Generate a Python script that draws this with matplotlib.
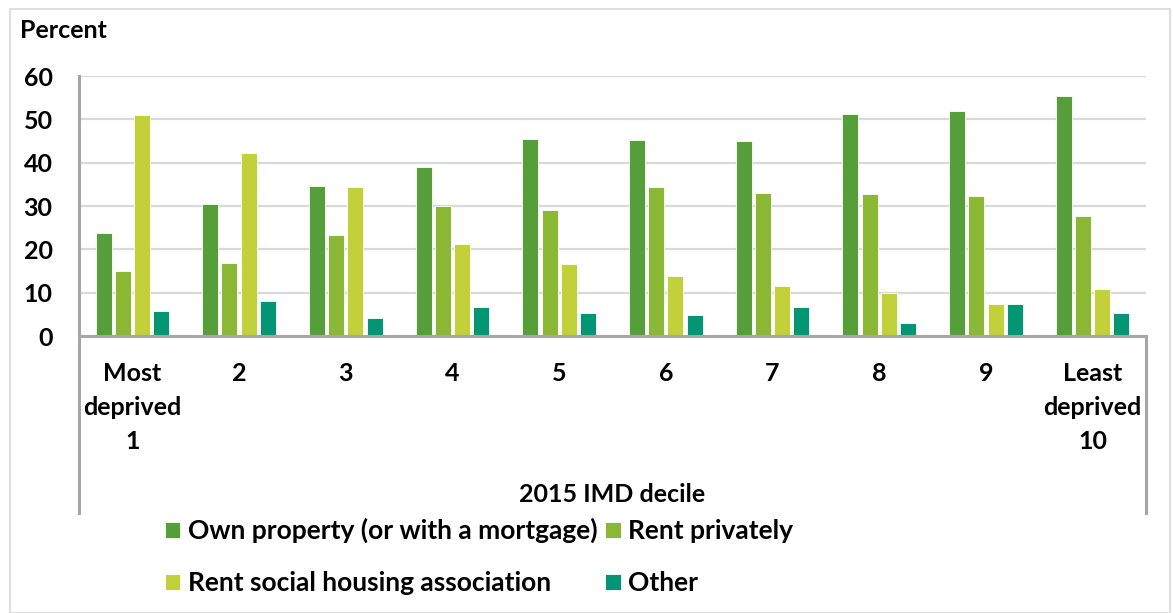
import matplotlib
matplotlib.use("Agg")
import matplotlib.pyplot as plt
from matplotlib.patches import Rectangle
from matplotlib.lines import Line2D
import numpy as np

plt.rcParams['font.family'] = ['Lato', 'DejaVu Sans']
plt.rcParams['font.weight'] = 'bold'

categories = ["Most\ndeprived\n1", "2", "3", "4", "5", "6", "7", "8", "9", "Least\ndeprived\n10"]
own = [23.7, 30.4, 34.6, 39.1, 45.4, 45.2, 45.1, 51.2, 52.0, 55.5]
rent_private = [15.1, 16.8, 23.2, 29.9, 29.0, 34.4, 32.9, 32.8, 32.3, 27.7]
rent_social = [50.9, 42.2, 34.4, 21.2, 16.6, 13.8, 11.5, 9.9, 7.5, 10.9]
other = [5.8, 8.1, 4.2, 6.8, 5.3, 4.9, 6.7, 2.9, 7.5, 5.4]

series_names = ["Own property (or with a mortgage)", "Rent privately",
                "Rent social housing association", "Other"]
series_values = [own, rent_private, rent_social, other]
colors = ["#559E3A", "#8AB734", "#C2D03A", "#049674"]

FS = 18
W, H = 1173, 613
fig = plt.figure(figsize=(W / 100, H / 100), dpi=100)

# outer chart border
fig.patches.append(Rectangle((10 / W, 0), 1160 / W, 604 / H, transform=fig.transFigure,
                             fill=False, edgecolor="#D9D9D9", linewidth=1.2))

ax_left, ax_right, ax_top, ax_bot = 79, 1146, 76, 336
ax = fig.add_axes([ax_left / W, (H - ax_bot) / H, (ax_right - ax_left) / W, (ax_bot - ax_top) / H])

x = np.arange(len(categories))
pitch = 0.18
bw = 0.15
handles = []
for i, (name, vals, c) in enumerate(zip(series_names, series_values, colors)):
    b = ax.bar(x + (i - 1.5) * pitch, vals, width=bw, color=c, edgecolor="white",
               linewidth=0.6, label=name, zorder=3)
    handles.append(b)

ax.set_xlim(-0.5, len(categories) - 0.5)
ax.set_ylim(0, 60)
ax.set_yticks(range(0, 61, 10))
for yv in range(10, 61, 10):
    ax.axhline(yv, color="#D9D9D9", linewidth=1.6, zorder=1)

for s in ["top", "right", "left"]:
    ax.spines[s].set_visible(False)
ax.spines["bottom"].set_color("#A6A6A6")
ax.spines["bottom"].set_linewidth(2.2)
ax.spines["bottom"].set_zorder(4)

ext = (ax_bot - 513) / (ax_bot - ax_top)
ax.add_line(Line2D([0, 0], [ext, 1], transform=ax.transAxes, color="#A6A6A6",
                   linewidth=2.2, clip_on=False, zorder=5))
ax.add_line(Line2D([1, 1], [ext, 0], transform=ax.transAxes, color="#A6A6A6",
                   linewidth=2.2, clip_on=False, zorder=5))

ax.tick_params(axis="y", length=0, pad=19, labelsize=FS)
ax.tick_params(axis="x", length=0, pad=19, labelsize=FS)
ax.set_xticks(x)
ax.set_xticklabels(categories, linespacing=1.56, fontweight="bold")
for t in ax.get_yticklabels():
    t.set_fontweight("bold")

fig.text(20 / W, 1 - 30 / H, "Percent", fontsize=FS, fontweight="bold", ha="left", va="center")
fig.text((ax_left + ax_right) / 2 / W, 1 - 495 / H, "2015 IMD decile", fontsize=FS,
         fontweight="bold", ha="center", va="center")

order = [0, 2, 1, 3]
leg = fig.legend([handles[i] for i in order], [series_names[i] for i in order],
                 ncol=2, loc="upper left", bbox_to_anchor=(165 / W, 1 - 518 / H),
                 frameon=False, prop={"size": 19, "weight": "bold"},
                 handlelength=0.58, handleheight=0.58,
                 handletextpad=0.28, columnspacing=0.3, labelspacing=1.06,
                 borderpad=0, borderaxespad=0)

fig.savefig("out.png", dpi=100)
